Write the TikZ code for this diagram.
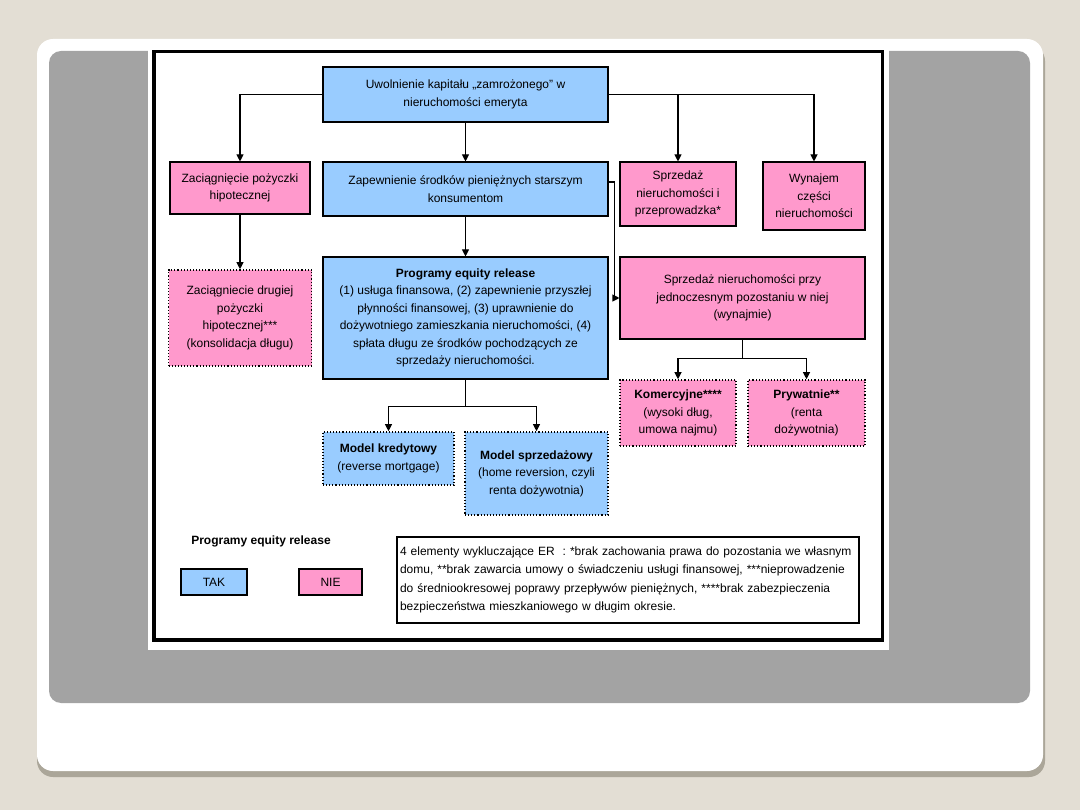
\documentclass[tikz,border=0pt]{standalone}
\usepackage{fontspec}
\setmainfont{Liberation Sans}
\usetikzlibrary{arrows.meta}
\definecolor{bg}{HTML}{E3DED4}
\definecolor{shadowc}{HTML}{ABA699}
\definecolor{panel}{HTML}{A3A3A3}
\definecolor{bluef}{HTML}{99CCFF}
\definecolor{pinkf}{HTML}{FF99CC}
\begin{document}
\begin{tikzpicture}[x=1pt,y=-1pt,
  box/.style={draw=black, line width=1.1pt, align=center, inner sep=2pt,
    font=\fontsize{12}{17.5}\selectfont, text=black},
  bluebox/.style={box, fill=bluef},
  pinkbox/.style={box, fill=pinkf},
  dotb/.style={dotted, line width=1.6pt},
  conn/.style={line width=1.1pt, draw=black},
  arr/.style={conn, -{Triangle[length=7pt,width=7pt]}},
]
\useasboundingbox (0,0) rectangle (1080,810);
\fill[bg] (0,0) rectangle (1080,810);
\fill[shadowc, rounded corners=16pt] (37,45) rectangle (1045,777);
\fill[white, rounded corners=16pt] (37,39) rectangle (1043,771);
\fill[panel, rounded corners=12pt] (49,51) rectangle (1030,703);
\fill[white] (148,45) rectangle (889,650);
\draw[line width=3.5pt] (154,51.5) rectangle (882.5,640);

\node[bluebox, minimum width=285pt, minimum height=55pt] (top) at (465.5,94.5)
  {Uwolnienie kapitału „zamrożonego” w\\nieruchomości emeryta};
\node[pinkbox, minimum width=140pt, minimum height=52pt] (left1) at (240,188)
  {Zaciągnięcie pożyczki\\hipotecznej};
\node[bluebox, minimum width=285pt, minimum height=54pt] (mid1) at (465.5,189)
  {Zapewnienie środków pieniężnych starszym\\konsumentom};
\node[pinkbox, minimum width=116pt, minimum height=64pt] (sell) at (678,194)
  {Sprzedaż\\nieruchomości i\\przeprowadzka*};
\node[pinkbox, minimum width=102pt, minimum height=68pt] (rent) at (814,196)
  {Wynajem\\części\\nieruchomości};
\node[pinkbox, dotb, minimum width=143pt, minimum height=96pt] (left2) at (240,318)
  {Zaciągniecie drugiej\\pożyczki\\hipotecznej***\\(konsolidacja długu)};
\node[bluebox, minimum width=285pt, minimum height=122pt] (prog) at (465.5,318)
  {\textbf{Programy equity release}\\(1) usługa finansowa, (2) zapewnienie przyszłej\\płynności finansowej, (3) uprawnienie do\\dożywotniego zamieszkania nieruchomości, (4)\\spłata długu ze środków pochodzących ze\\sprzedaży nieruchomości.};
\node[pinkbox, minimum width=245pt, minimum height=82pt] (stay) at (742.5,298)
  {Sprzedaż nieruchomości przy\\jednoczesnym pozostaniu w niej\\(wynajmie)};
\node[pinkbox, dotb, minimum width=116pt, minimum height=66pt] (kom) at (678,413)
  {\textbf{Komercyjne****}\\(wysoki dług,\\umowa najmu)};
\node[pinkbox, dotb, minimum width=117pt, minimum height=66pt] (pry) at (806.5,413)
  {\textbf{Prywatnie**}\\(renta\\dożywotnia)};
\node[bluebox, dotb, minimum width=131pt, minimum height=53pt] (mk) at (388.5,458.5)
  {\textbf{Model kredytowy}\\(reverse mortgage)};
\node[bluebox, dotb, minimum width=143pt, minimum height=83pt] (ms) at (536.5,473.5)
  {\textbf{Model sprzedażowy}\\(home reversion, czyli\\renta dożywotnia)};

\node[font=\fontsize{12}{14}\selectfont\bfseries] (legt) at (261,541) {Programy equity release};
\node[bluebox, minimum width=66pt, minimum height=26pt] (tak) at (214,582) {TAK};
\node[pinkbox, minimum width=63pt, minimum height=26pt] (nie) at (330.5,582) {NIE};
\node[box, fill=white, align=left, text width=456pt, minimum height=86pt, inner sep=3pt,
  font=\fontsize{12}{18.5}\selectfont] (note) at (628,580)
  {4 elementy wykluczające ER\ \ : *brak zachowania prawa do pozostania we własnym\\domu, **brak zawarcia umowy o świadczeniu usługi finansowej, ***nieprowadzenie\\do średniookresowej poprawy przepływów pieniężnych, ****brak zabezpieczenia\\bezpieczeństwa mieszkaniowego w długim okresie.};

\draw[arr] (top.west) -| (left1.north);
\draw[arr] (top.east) -| (rent.north);
\draw[arr] (sell.north |- top.east) -- (sell.north);
\draw[arr] (top.south) -- (mid1.north);
\draw[arr] (left1.south) -- (left2.north);
\draw[arr] (mid1.south) -- (prog.north);
\draw[arr] ([yshift=7pt]mid1.east) -- ++(6,0) |- (stay.west);
\draw[conn] (prog.south) -- ++(0,27) coordinate (pj);
\draw[arr] (pj) -| (mk.north);
\draw[arr] (pj) -| (ms.north);
\draw[conn] (stay.south) -- ++(0,19) coordinate (sj);
\draw[arr] (sj) -| (kom.north);
\draw[arr] (sj) -| (pry.north);
\end{tikzpicture}
\end{document}
